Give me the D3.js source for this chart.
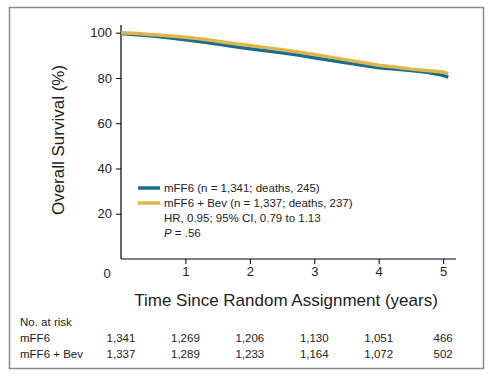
<!DOCTYPE html>
<html>
<head>
<meta charset="utf-8">
<script src="https://cdn.jsdelivr.net/npm/d3@7"></script>
<style>
  body { margin: 0; background: #fff; }
  svg { font-family: "Liberation Sans", Arial, sans-serif; }
</style>
</head>
<body>
<div id="chart-area"></div>
<script>
// survival curves (years, %)
var years   = [0, 0.25, 0.5, 0.75, 1, 1.25, 1.5, 1.75, 2, 2.25, 2.5, 2.75, 3, 3.25, 3.5, 3.75, 4, 4.25, 4.5, 4.75, 5, 5.08];
var mff6    = [100, 99.5, 98.9, 98.1, 97.2, 96.3, 95.3, 94.3, 93.3, 92.4, 91.5, 90.5, 89.3, 88.2, 87.1, 86.0, 84.9, 84.3, 83.6, 82.9, 81.5, 80.7];
var mff6Bev = [100, 99.6, 99.1, 98.6, 98.0, 97.2, 96.2, 95.2, 94.3, 93.4, 92.5, 91.5, 90.4, 89.2, 88.0, 86.8, 85.6, 84.8, 83.9, 83.3, 82.6, 81.9];

var yTicks = [20, 40, 60, 80, 100];
var xTicks = [1, 2, 3, 4, 5];

var riskTimes = [0, 1, 2, 3, 4, 5];
var riskMff6 = ["1,341", "1,269", "1,206", "1,130", "1,051", "466"];
var riskBev  = ["1,337", "1,289", "1,233", "1,164", "1,072", "502"];

var legendLabels = ["mFF6 (n = 1,341; deaths, 245)", "mFF6 + Bev (n = 1,337; deaths, 237)"];
var colors = ["#1b6d8c", "#e0b64c"];

var svg = d3.select("#chart-area")
  .append("svg")
  .attr("width", 490)
  .attr("height", 376);

// outer frame
svg.append("rect")
  .attr("x", 9.5).attr("y", 7.5)
  .attr("width", 474).attr("height", 361)
  .attr("fill", "none")
  .attr("stroke", "#8a8a8a")
  .attr("stroke-width", 1.5);

var x = d3.scaleLinear().domain([0, 5.2]).range([121, 456]);
var y = d3.scaleLinear().domain([0, 100]).range([259, 32.7]);

var g = svg.append("g");

// axes
g.append("line")
  .attr("x1", 121).attr("x2", 121)
  .attr("y1", 25).attr("y2", 259)
  .attr("stroke", "#000").attr("stroke-width", 1.2);
g.append("line")
  .attr("x1", 121).attr("x2", 456)
  .attr("y1", 259).attr("y2", 259)
  .attr("stroke", "#000").attr("stroke-width", 1.2);

var yAxisCall = d3.axisLeft(y).tickValues(yTicks).tickSize(5).tickPadding(4);
var yAxis = g.append("g")
  .attr("transform", "translate(121,0)")
  .call(yAxisCall);
yAxis.select(".domain").remove();
yAxis.selectAll("text").attr("font-size", "13px").attr("fill", "#222");

var xAxisCall = d3.axisBottom(x).tickValues(xTicks).tickFormat(d3.format("d")).tickSize(5).tickPadding(3);
var xAxis = g.append("g")
  .attr("transform", "translate(0,259)")
  .call(xAxisCall);
xAxis.select(".domain").remove();
xAxis.selectAll("text").attr("font-size", "13px").attr("fill", "#222");

// origin label
g.append("text")
  .attr("x", 107).attr("y", 278)
  .attr("text-anchor", "middle")
  .attr("font-size", "13px").attr("fill", "#222")
  .text("0");

// curves
var line = d3.line()
  .x((d, i) => x(years[i]))
  .y(d => y(d));

g.append("path")
  .datum(mff6)
  .attr("d", line)
  .attr("fill", "none")
  .attr("stroke", colors[0])
  .attr("stroke-width", 3.5)
  .attr("transform", "translate(0,0.8)");

g.append("path")
  .datum(mff6Bev)
  .attr("d", line)
  .attr("fill", "none")
  .attr("stroke", colors[1])
  .attr("stroke-width", 3.5);

// axis titles
g.append("text")
  .attr("x", -140).attr("y", 64)
  .attr("transform", "rotate(-90)")
  .attr("text-anchor", "middle")
  .attr("font-size", "17px").attr("fill", "#222")
  .text("Overall Survival (%)");

g.append("text")
  .attr("x", 286).attr("y", 306)
  .attr("text-anchor", "middle")
  .attr("font-size", "17px").attr("fill", "#222")
  .text("Time Since Random Assignment (years)");

// legend
var legend = g.append("g").attr("transform", "translate(138,188)");
legendLabels.forEach((lab, i) => {
  legend.append("line")
    .attr("x1", 0).attr("x2", 22)
    .attr("y1", i * 15).attr("y2", i * 15)
    .attr("stroke", colors[i]).attr("stroke-width", 3.5);
  legend.append("text")
    .attr("x", 26).attr("y", i * 15 + 4)
    .attr("font-size", "11.5px").attr("fill", "#222")
    .text(lab);
});
legend.append("text")
  .attr("x", 26).attr("y", 34)
  .attr("font-size", "11.5px").attr("fill", "#222")
  .text("HR, 0.95; 95% CI, 0.79 to 1.13");
var pText = legend.append("text")
  .attr("x", 26).attr("y", 49)
  .attr("font-size", "11.5px").attr("fill", "#222");
pText.append("tspan").attr("font-style", "italic").text("P");
pText.append("tspan").text(" = .56");

// number at risk table
var risk = svg.append("g").attr("font-size", "11.5px").attr("fill", "#222");
risk.append("text").attr("x", 20).attr("y", 326).text("No. at risk");
risk.append("text").attr("x", 20).attr("y", 342).text("mFF6");
risk.append("text").attr("x", 20).attr("y", 358).text("mFF6 + Bev");

risk.selectAll(".r1")
  .data(riskMff6)
  .enter()
  .append("text")
  .attr("x", (d, i) => x(riskTimes[i]))
  .attr("y", 342)
  .attr("text-anchor", "middle")
  .text(d => d);

risk.selectAll(".r2")
  .data(riskBev)
  .enter()
  .append("text")
  .attr("x", (d, i) => x(riskTimes[i]))
  .attr("y", 358)
  .attr("text-anchor", "middle")
  .text(d => d);
</script>
</body>
</html>
